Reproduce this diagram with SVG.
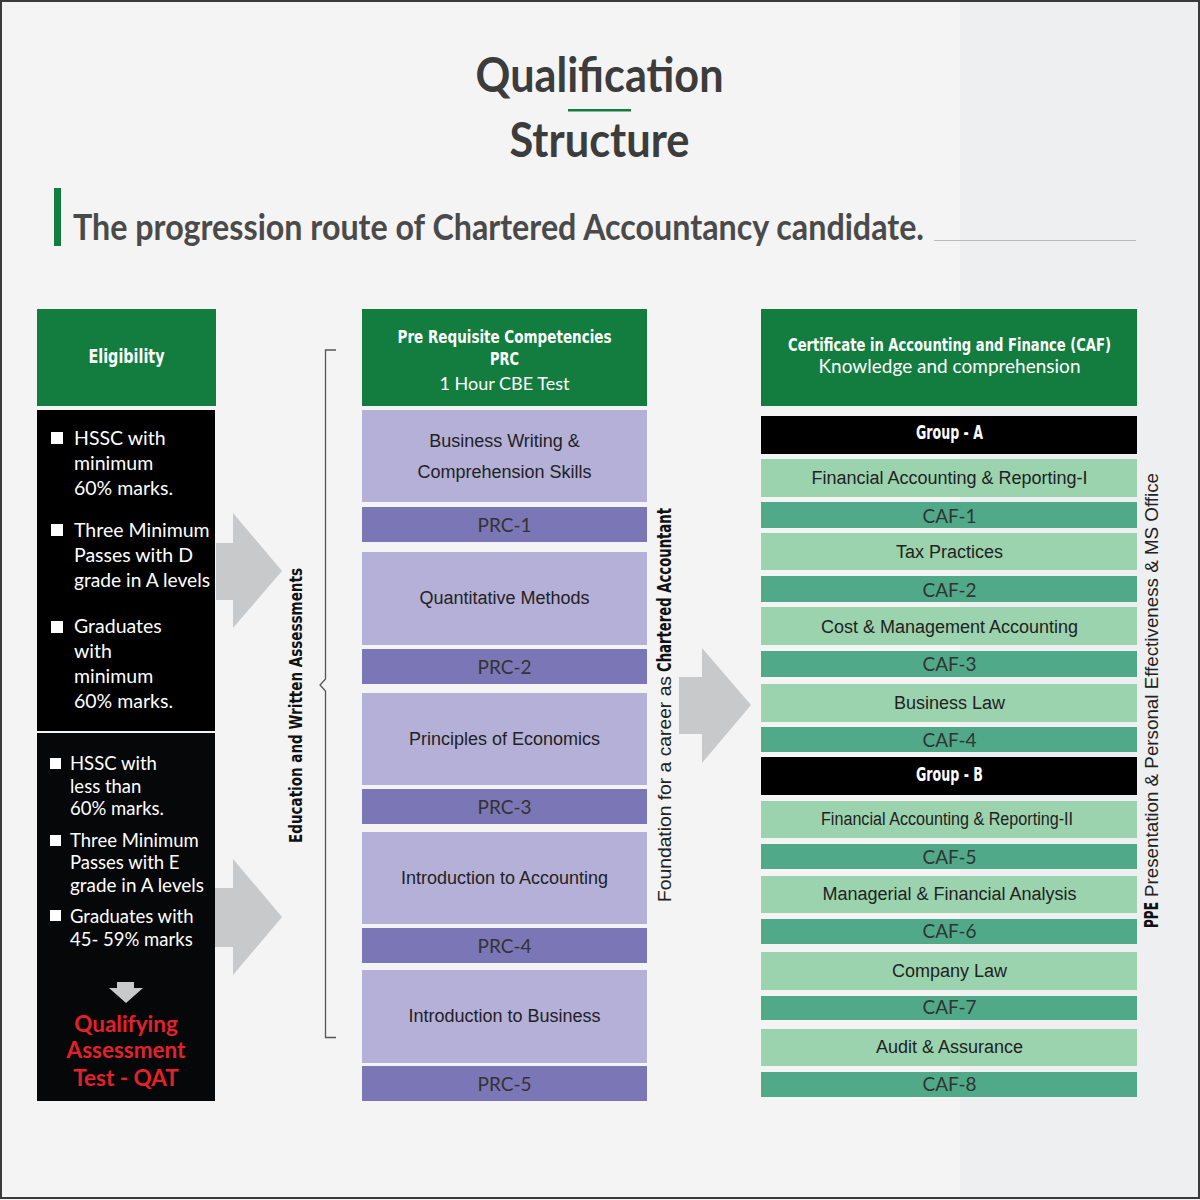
<svg xmlns="http://www.w3.org/2000/svg" width="1200" height="1200" viewBox="0 0 1200 1200">
<style>
.hdr{fill:#127d3f}
.blk{fill:#000}
.lp{fill:#b4b0d8}
.dp{fill:#7b76b6}
.lg{fill:#9bd3ae}
.dg{fill:#50aa89}
.arr{fill:#c8c9cb}
.cond{font-family:"Liberation Sans Narrow","DejaVu Sans Condensed","Liberation Sans",sans-serif;font-weight:700;font-stretch:condensed}
.wt{fill:#fff}
.myr{font-family:Lato,"Open Sans",sans-serif}
.ar{font-family:"Liberation Sans",Arial,sans-serif;font-size:18px;fill:#222;text-anchor:middle}
.code{font-family:Lato,"Open Sans",sans-serif;font-size:19px;fill:#333;text-anchor:middle}
.elig1{font-family:Lato,"Open Sans",sans-serif;font-size:19.5px;fill:#fff}
.elig2{font-family:Lato,"Open Sans",sans-serif;font-size:18.5px;fill:#fff}
.mid{text-anchor:middle}
</style>
<rect x="0" y="0" width="1200" height="1200" fill="#f4f4f4"/>
<rect x="960" y="0" width="240" height="1200" fill="#eeeff1"/>
<rect x="1" y="1" width="1198" height="1197" fill="none" stroke="#3a3a3a" stroke-width="2"/>

<g id="title">
<text x="599.5" y="92" class="mid" font-family="Lato,'Open Sans',sans-serif" font-weight="700" font-size="47" fill="#3c3c3c" textLength="248" lengthAdjust="spacingAndGlyphs">Qualification</text>
<rect x="568" y="109" width="63" height="2.5" fill="#127d3f"/>
<text x="599.5" y="157" class="mid" font-family="Lato,'Open Sans',sans-serif" font-weight="700" font-size="47" fill="#3c3c3c" textLength="180" lengthAdjust="spacingAndGlyphs">Structure</text>
</g>
<g id="subtitle">
<rect x="54" y="188" width="7" height="58" fill="#127d3f"/>
<text x="73" y="240" font-family="Lato,'Open Sans',sans-serif" font-weight="700" font-size="37" fill="#4a4a4a" textLength="851" lengthAdjust="spacingAndGlyphs">The progression route of Chartered Accountancy candidate.</text>
<line x1="934" y1="240.5" x2="1136" y2="240.5" stroke="#bbbbbb" stroke-width="1"/>
</g>

<g id="connectors">
<polygon class="arr" points="216,543 233,543 233,513 282,571 233,628 233,600 216,600"/>
<polygon class="arr" points="215,888 233,888 233,859 282,917 233,975 233,947 215,947"/>
<polygon class="arr" points="679,677 702,677 702,648 751,705 702,763 702,734 679,734"/>
<path d="M336,350 H325.5 V679 L320,685 L325.5,691 V1037.5 H336" fill="none" stroke="#555" stroke-width="1.3"/>
</g>

<g id="eligibility-header">
<rect class="hdr" x="37" y="309" width="179" height="97"/>
<text class="cond wt mid" x="126.5" y="363" font-size="19" textLength="76" lengthAdjust="spacingAndGlyphs">Eligibility</text>
</g>
<g id="eligibility-direct">
<rect class="blk" x="37" y="410" width="178" height="321"/>
<rect x="51" y="432" width="12" height="12" fill="#fff"/>
<rect x="51" y="524" width="12" height="12" fill="#fff"/>
<rect x="51" y="621" width="12" height="12" fill="#fff"/>
<text class="elig1" x="74" y="445">HSSC with</text>
<text class="elig1" x="74" y="470">minimum</text>
<text class="elig1" x="74" y="495">60% marks.</text>
<text class="elig1" x="74" y="537">Three Minimum</text>
<text class="elig1" x="74" y="562">Passes with D</text>
<text class="elig1" x="74" y="587" textLength="136" lengthAdjust="spacingAndGlyphs">grade in A levels</text>
<text class="elig1" x="74" y="633">Graduates</text>
<text class="elig1" x="74" y="658">with</text>
<text class="elig1" x="74" y="683">minimum</text>
<text class="elig1" x="74" y="708">60% marks.</text>
</g>
<g id="eligibility-qat">
<rect x="37" y="733" width="178" height="368" fill="#060708"/>
<rect x="50" y="758" width="11" height="11" fill="#fff"/>
<rect x="50" y="835" width="11" height="11" fill="#fff"/>
<rect x="50" y="910" width="11" height="11" fill="#fff"/>
<text class="elig2" x="70" y="770">HSSC with</text>
<text class="elig2" x="70" y="793">less than</text>
<text class="elig2" x="70" y="815">60% marks.</text>
<text class="elig2" x="70" y="847">Three Minimum</text>
<text class="elig2" x="70" y="869">Passes with E</text>
<text class="elig2" x="70" y="892" textLength="134" lengthAdjust="spacingAndGlyphs">grade in A levels</text>
<text class="elig2" x="70" y="923">Graduates with</text>
<text class="elig2" x="70" y="946">45- 59% marks</text>
<polygon class="arr" points="117,982 134,982 134,988 143,988 126,1003 109,988 117,988"/>
<g font-family="Lato,'Open Sans',sans-serif" font-weight="700" font-size="22.5" fill="#e3212b" text-anchor="middle">
<text x="126" y="1032">Qualifying</text>
<text x="126" y="1058">Assessment</text>
<text x="126" y="1086">Test - QAT</text>
</g>
</g>

<g id="label-education">
<text class="cond mid" transform="translate(302,705.5) rotate(-90)" font-size="18" fill="#111" textLength="275" lengthAdjust="spacingAndGlyphs">Education and Written Assessments</text>
</g>

<g id="prc-header">
<rect class="hdr" x="362" y="309" width="285" height="97"/>
<text class="cond wt mid" x="504.5" y="343" font-size="18" textLength="214" lengthAdjust="spacingAndGlyphs">Pre Requisite Competencies</text>
<text class="cond wt mid" x="504.5" y="365" font-size="18" textLength="29" lengthAdjust="spacingAndGlyphs">PRC</text>
<text class="myr wt mid" x="504.5" y="390" font-size="18">1 Hour CBE Test</text>
</g>
<g id="prc-1">
<rect class="lp" x="362" y="410" width="285" height="92"/>
<text class="ar" x="504.5" y="447">Business Writing &amp;</text>
<text class="ar" x="504.5" y="478">Comprehension Skills</text>
<rect class="dp" x="362" y="507" width="285" height="35"/>
<text class="code" x="504.5" y="532">PRC-1</text>
</g>
<g id="prc-2">
<rect class="lp" x="362" y="552" width="285" height="93"/>
<text class="ar" x="504.5" y="604">Quantitative Methods</text>
<rect class="dp" x="362" y="649" width="285" height="35"/>
<text class="code" x="504.5" y="674">PRC-2</text>
</g>
<g id="prc-3">
<rect class="lp" x="362" y="693" width="285" height="92"/>
<text class="ar" x="504.5" y="745">Principles of Economics</text>
<rect class="dp" x="362" y="789" width="285" height="35"/>
<text class="code" x="504.5" y="814">PRC-3</text>
</g>
<g id="prc-4">
<rect class="lp" x="362" y="832" width="285" height="92"/>
<text class="ar" x="504.5" y="884">Introduction to Accounting</text>
<rect class="dp" x="362" y="928" width="285" height="35"/>
<text class="code" x="504.5" y="953">PRC-4</text>
</g>
<g id="prc-5">
<rect class="lp" x="362" y="970" width="285" height="93"/>
<text class="ar" x="504.5" y="1022">Introduction to Business</text>
<rect class="dp" x="362" y="1066" width="285" height="35"/>
<text class="code" x="504.5" y="1091">PRC-5</text>
</g>

<g id="label-foundation">
<text transform="translate(671,902) rotate(-90)" font-family="'Liberation Sans',Arial,sans-serif" font-size="19" fill="#222" textLength="226" lengthAdjust="spacingAndGlyphs">Foundation for a career as</text>
<text class="cond" transform="translate(671,672) rotate(-90)" font-size="19" fill="#111" textLength="164" lengthAdjust="spacingAndGlyphs">Chartered Accountant</text>
</g>

<g id="caf-header">
<rect class="hdr" x="761" y="309" width="376" height="97"/>
<text class="cond wt mid" x="949.5" y="351" font-size="18" textLength="323" lengthAdjust="spacingAndGlyphs">Certificate in Accounting and Finance (CAF)</text>
<text class="myr wt mid" x="949.5" y="373" font-size="19" textLength="262" lengthAdjust="spacingAndGlyphs">Knowledge and comprehension</text>
</g>
<g id="group-a">
<rect class="blk" x="761" y="416" width="376" height="38"/>
<text class="cond wt mid" x="949.5" y="439" font-size="19" textLength="67" lengthAdjust="spacingAndGlyphs">Group - A</text>
</g>
<g id="caf-1">
<rect class="lg" x="761" y="459" width="376" height="38"/>
<text class="ar" x="949.5" y="484">Financial Accounting &amp; Reporting-I</text>
<rect class="dg" x="761" y="502" width="376" height="26"/>
<text class="code" x="949.5" y="522.5">CAF-1</text>
</g>
<g id="caf-2">
<rect class="lg" x="761" y="533" width="376" height="37"/>
<text class="ar" x="949.5" y="557.5">Tax Practices</text>
<rect class="dg" x="761" y="576" width="376" height="26"/>
<text class="code" x="949.5" y="596.5">CAF-2</text>
</g>
<g id="caf-3">
<rect class="lg" x="761" y="607" width="376" height="38"/>
<text class="ar" x="949.5" y="632.5">Cost &amp; Management Accounting</text>
<rect class="dg" x="761" y="651" width="376" height="26"/>
<text class="code" x="949.5" y="671">CAF-3</text>
</g>
<g id="caf-4">
<rect class="lg" x="761" y="684" width="376" height="38"/>
<text class="ar" x="949.5" y="709">Business Law</text>
<rect class="dg" x="761" y="727" width="376" height="25"/>
<text class="code" x="949.5" y="747">CAF-4</text>
</g>
<g id="group-b">
<rect class="blk" x="761" y="757" width="376" height="38"/>
<text class="cond wt mid" x="949.5" y="781" font-size="19" textLength="67" lengthAdjust="spacingAndGlyphs">Group - B</text>
</g>
<g id="caf-5">
<rect class="lg" x="761" y="801" width="376" height="37"/>
<text class="ar" x="947" y="825" textLength="252" lengthAdjust="spacingAndGlyphs">Financial Accounting &amp; Reporting-II</text>
<rect class="dg" x="761" y="844" width="376" height="25"/>
<text class="code" x="949.5" y="864">CAF-5</text>
</g>
<g id="caf-6">
<rect class="lg" x="761" y="876" width="376" height="37"/>
<text class="ar" x="949.5" y="900">Managerial &amp; Financial Analysis</text>
<rect class="dg" x="761" y="919" width="376" height="25"/>
<text class="code" x="949.5" y="938">CAF-6</text>
</g>
<g id="caf-7">
<rect class="lg" x="761" y="952" width="376" height="38"/>
<text class="ar" x="949.5" y="977">Company Law</text>
<rect class="dg" x="761" y="996" width="376" height="24"/>
<text class="code" x="949.5" y="1014">CAF-7</text>
</g>
<g id="caf-8">
<rect class="lg" x="761" y="1029" width="376" height="37"/>
<text class="ar" x="949.5" y="1052.5">Audit &amp; Assurance</text>
<rect class="dg" x="761" y="1072" width="376" height="25"/>
<text class="code" x="949.5" y="1091">CAF-8</text>
</g>

<g id="label-ppe">
<text class="cond" transform="translate(1158,928) rotate(-90)" font-size="19" fill="#111" textLength="26" lengthAdjust="spacingAndGlyphs">PPE</text>
<text transform="translate(1158,897) rotate(-90)" font-family="'Liberation Sans',Arial,sans-serif" font-size="19" fill="#222" textLength="424" lengthAdjust="spacingAndGlyphs">Presentation &amp; Personal Effectiveness &amp; MS Office</text>
</g>
</svg>
